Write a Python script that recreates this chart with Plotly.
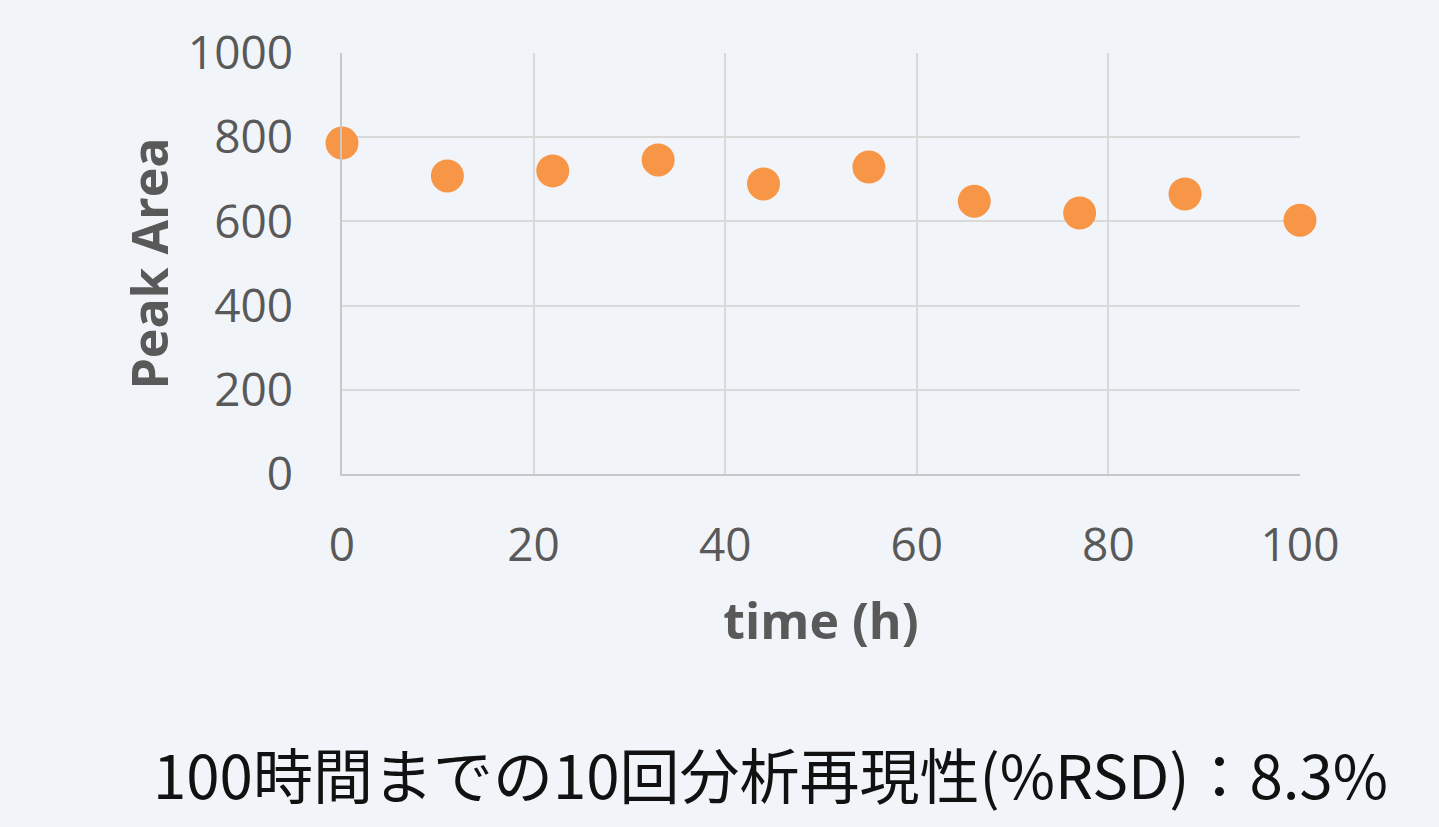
import plotly.graph_objects as go

time_h = [0, 11, 22, 33, 44, 55, 66, 77, 88, 100]
peak_area = [786, 708, 720, 746, 689, 729, 648, 620, 665, 603]
x_ticks = [0, 20, 40, 60, 80, 100]
y_ticks = [0, 200, 400, 600, 800, 1000]
caption = "100時間までの10回分析再現性(%RSD)：8.3%"

fig = go.Figure()
fig.add_trace(go.Scatter(
    x=time_h, y=peak_area, mode="markers",
    marker=dict(color="#F79646", size=33, line=dict(width=0)),
    cliponaxis=False, showlegend=False,
))

font_main = "Open Sans, Noto Sans, sans-serif"
fig.update_layout(
    width=1439, height=827,
    margin=dict(l=342, r=139, t=53, b=353),
    paper_bgcolor="#f1f5fa", plot_bgcolor="#f1f5fa",
    font=dict(family=font_main, color="#595959", size=46),
    xaxis=dict(
        range=[0, 100], tickvals=x_ticks, ticktext=[str(v) for v in x_ticks],
        showgrid=True, gridcolor="#d9d9d9", gridwidth=1.5,
        showline=True, linecolor="#c8c8c8", linewidth=1.5,
        zeroline=False, ticks="outside", ticklen=30, tickcolor="rgba(0,0,0,0)",
        tickfont=dict(size=46, color="#595959"),
        title=dict(text="<b>time (h)</b>", font=dict(size=50, color="#595959"), standoff=31),
    ),
    yaxis=dict(
        range=[0, 1000], tickvals=y_ticks, ticktext=[str(v) for v in y_ticks],
        showgrid=True, gridcolor="#d9d9d9", gridwidth=1.5,
        showline=True, linecolor="#c8c8c8", linewidth=1.5,
        zeroline=False, ticks="outside", ticklen=38, tickcolor="rgba(0,0,0,0)",
        tickfont=dict(size=46, color="#595959"),
        title=dict(text="<b>Peak Area</b>", font=dict(size=50, color="#595959"), standoff=3),
    ),
    annotations=[dict(
        text=caption, xref="paper", yref="paper", x=0.447, y=-0.71,
        xanchor="center", yanchor="middle", showarrow=False,
        font=dict(family="Noto Sans CJK JP, sans-serif", size=60, color="#111111"),
    )],
)

fig.write_html(
    "out.html",
    config={"displayModeBar": False},
    post_script="document.body.style.margin='0';document.body.style.background='#f1f5fa';",
)
